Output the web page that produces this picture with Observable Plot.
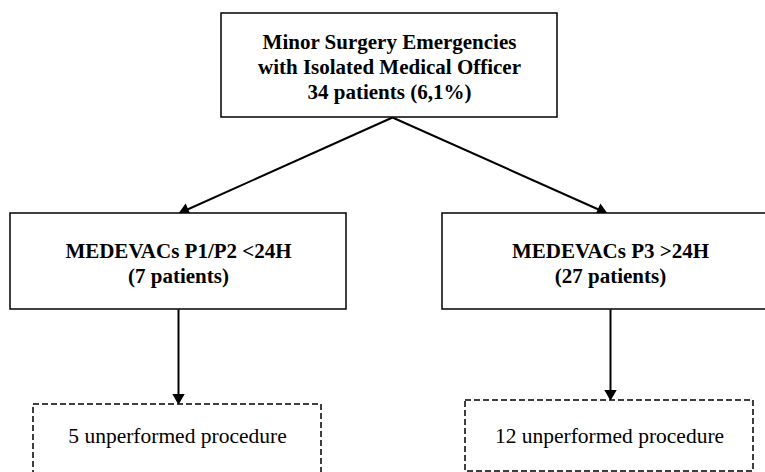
<!DOCTYPE html>
<html>
<head>
<meta charset="utf-8">
<script src="https://cdn.jsdelivr.net/npm/d3@7"></script>
<script src="https://cdn.jsdelivr.net/npm/@observablehq/plot@0.6"></script>
<style>
  html, body { margin: 0; padding: 0; background: #fff; }
  #chart svg { display: block; }
</style>
</head>
<body>
<div id="chart"></div>
<script>
// ---- data ----
const nodeIds = ["root", "p12", "p3", "u12", "u3"];
const nodeLabels = [
  "Minor Surgery Emergencies\nwith Isolated Medical Officer\n34 patients (6,1%)",
  "MEDEVACs P1/P2 <24H\n(7 patients)",
  "MEDEVACs P3 >24H\n(27 patients)",
  "5 unperformed procedure",
  "12 unperformed procedure"
];
const nodeKinds = ["main", "main", "main", "outcome", "outcome"];
const edgeFrom = ["root", "root", "p12", "p3"];
const edgeTo = ["p12", "p3", "u12", "u3"];

// ---- layout (pixel space) ----
const W = 765, H = 472;
const layout = {
  root: {x1: 221, x2: 557, y1: 13, y2: 117, ty: 65.5, outX: 392, inX: 389},
  p12:  {x1: 10,  x2: 346, y1: 213, y2: 309, ty: 262, outX: 178, inX: 178},
  p3:   {x1: 442, x2: 778, y1: 213, y2: 309, ty: 262, outX: 610, inX: 607},
  u12:  {x1: 33,  x2: 321, y1: 404, y2: 476, ty: 435.5, outX: 178, inX: 178},
  u3:   {x1: 465, x2: 753, y1: 400, y2: 471, ty: 435.5, outX: 610, inX: 610}
};

const nodes = nodeIds.map((id, i) => ({
  id, label: nodeLabels[i], kind: nodeKinds[i], ...layout[id],
  cx: (layout[id].x1 + layout[id].x2) / 2
}));
const edges = edgeFrom.map((f, i) => {
  const a = layout[f], b = layout[edgeTo[i]];
  const x1 = a.outX, y1 = a.y2, x2 = b.inX, y2 = b.y1;
  const len = Math.hypot(x2 - x1, y2 - y1);
  const ux = (x2 - x1) / len, uy = (y2 - y1) / len;
  const headBack = 7; // distance from triangle centre to tip
  return {
    x1, y1, x2, y2,
    lx2: x2 - ux * 8, ly2: y2 - uy * 8,
    hx: x2 - ux * headBack, hy: y2 - uy * headBack,
    angle: Math.atan2(ux, -uy) * 180 / Math.PI
  };
});

const mainNodes = nodes.filter(d => d.kind === "main");
const outNodes = nodes.filter(d => d.kind === "outcome");
const font = "'Liberation Serif', 'Times New Roman', serif";

const chart = Plot.plot({
  width: W, height: H,
  margin: 0,
  x: {domain: [0, W], range: [0, W], axis: null},
  y: {domain: [0, H], range: [0, H], axis: null},
  style: {fontFamily: font, background: "#fff"},
  marks: [
    Plot.link(edges, {x1: "x1", y1: "y1", x2: "lx2", y2: "ly2", stroke: "#000", strokeWidth: 2}),
    Plot.dot(edges, {x: "hx", y: "hy", symbol: "triangle", r: 4.6, fill: "#000", stroke: "none", rotate: "angle"}),
    Plot.rect(mainNodes, {x1: "x1", x2: "x2", y1: "y1", y2: "y2", fill: "#fff", stroke: "#000", strokeWidth: 1.5}),
    Plot.rect(outNodes, {x1: "x1", x2: "x2", y1: "y1", y2: "y2", fill: "#fff", stroke: "#000", strokeWidth: 1.5, strokeDasharray: "6,3"}),
    Plot.text(mainNodes, {x: "cx", y: "ty", text: "label", fontSize: 21, fontWeight: "bold", lineHeight: 1.19, lineAnchor: "middle", textAnchor: "middle", fill: "#000"}),
    Plot.text(outNodes, {x: "cx", y: "ty", text: "label", fontSize: 21.5, fontWeight: "normal", lineAnchor: "middle", textAnchor: "middle", fill: "#000"})
  ]
});
document.getElementById("chart").appendChild(chart);
</script>
</body>
</html>
